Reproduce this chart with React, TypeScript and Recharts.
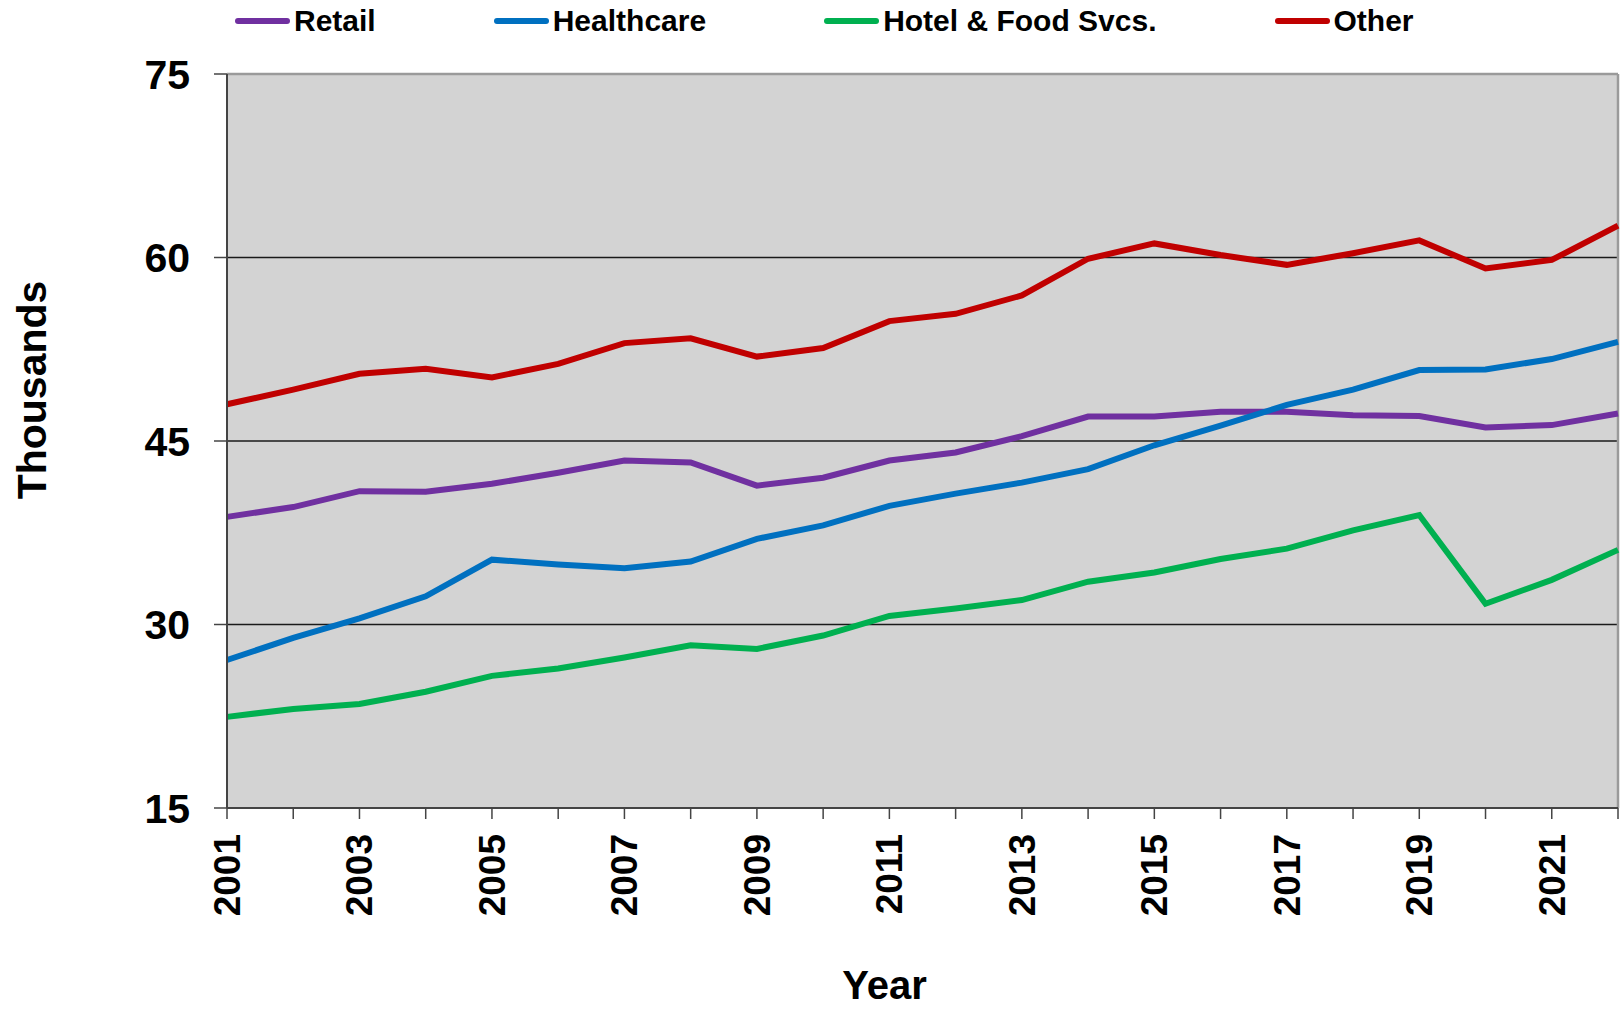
import React from 'react';
import { LineChart, Line, XAxis, YAxis, CartesianGrid, ReferenceLine } from 'recharts';

const years = [2001, 2002, 2003, 2004, 2005, 2006, 2007, 2008, 2009, 2010, 2011, 2012, 2013, 2014, 2015, 2016, 2017, 2018, 2019, 2020, 2021, 2022];
const retail = [38.8, 39.6, 40.9, 40.85, 41.5, 42.4, 43.4, 43.25, 41.35, 42.0, 43.4, 44.06, 45.4, 47.0, 47.0, 47.4, 47.4, 47.1, 47.05, 46.1, 46.3, 47.25];
const healthcare = [27.1, 28.9, 30.5, 32.3, 35.3, 34.9, 34.6, 35.15, 37.0, 38.1, 39.7, 40.7, 41.6, 42.7, 44.65, 46.25, 47.95, 49.2, 50.8, 50.85, 51.7, 53.1];
const hotelFood = [22.45, 23.1, 23.5, 24.5, 25.8, 26.4, 27.3, 28.3, 28.0, 29.1, 30.7, 31.3, 32.0, 33.5, 34.25, 35.35, 36.2, 37.7, 38.95, 31.7, 33.65, 36.1];
const other = [48.0, 49.2, 50.5, 50.9, 50.2, 51.3, 53.0, 53.4, 51.9, 52.6, 54.8, 55.4, 56.9, 59.9, 61.15, 60.2, 59.4, 60.35, 61.4, 59.1, 59.8, 62.6];

const yTicks = [15, 30, 45, 60, 75];
const gridValues = [30, 45, 60];
const labeledYears = [2001, 2003, 2005, 2007, 2009, 2011, 2013, 2015, 2017, 2019, 2021];

const seriesNames = ['Retail', 'Healthcare', 'Hotel & Food Svcs.', 'Other'];
const seriesKeys = ['retail', 'healthcare', 'hotelFood', 'other'];
const seriesColors = ['#7030A0', '#0070C0', '#00B050', '#C00000'];

const data = years.map((y, i) => ({
  year: y,
  retail: retail[i],
  healthcare: healthcare[i],
  hotelFood: hotelFood[i],
  other: other[i],
}));

const FONT = '"Liberation Sans", Arial, sans-serif';

const XTick = (props: any) => {
  const { x, y, payload } = props;
  if (!labeledYears.includes(payload.value)) return null;
  return (
    <text
      x={x + 13}
      y={y}
      transform={`rotate(-90, ${x + 13}, ${y})`}
      textAnchor="end"
      fontFamily={FONT}
      fontWeight="bold"
      fontSize={37}
      fill="#000"
    >
      {payload.value}
    </text>
  );
};

const YLabel = (props: any) => {
  const { viewBox } = props;
  const cx = 32;
  const cy = viewBox.y + viewBox.height / 2 - 51;
  return (
    <text
      x={cx + 14}
      y={cy}
      transform={`rotate(-90, ${cx + 14}, ${cy})`}
      textAnchor="middle"
      fontFamily={FONT}
      fontWeight="bold"
      fontSize={41}
      fill="#000"
    >
      Thousands
    </text>
  );
};

const XLabel = (props: any) => {
  const { viewBox } = props;
  const cx = viewBox.x + viewBox.width / 2 - 38;
  return (
    <text
      x={cx}
      y={999}
      textAnchor="middle"
      fontFamily={FONT}
      fontWeight="bold"
      fontSize={40}
      fill="#000"
    >
      Year
    </text>
  );
};

export default function App() {
  return (
    <div style={{ position: 'fixed', left: 0, top: 0, width: 1623, height: 1009, background: '#fff' }}>
      <div
        style={{
          position: 'absolute',
          left: 235,
          top: 0,
          height: 42,
          display: 'flex',
          alignItems: 'center',
          gap: 118,
          fontFamily: FONT,
          fontWeight: 'bold',
          fontSize: 30,
          whiteSpace: 'nowrap',
        }}
      >
        {seriesNames.map((n, i) => (
          <div key={n} style={{ display: 'flex', alignItems: 'center' }}>
            <div style={{ width: 55, height: 6, borderRadius: 3, background: seriesColors[i], marginRight: 4 }} />
            <span>{n}</span>
          </div>
        ))}
      </div>
      <LineChart
        width={1623}
        height={1009}
        data={data}
        margin={{ top: 74, right: 5, left: 0, bottom: 0 }}
      >
        <CartesianGrid
          horizontal={true}
          vertical={false}
          horizontalValues={gridValues}
          stroke="#1a1a1a"
          strokeWidth={1.5}
          fill="#D3D3D3"
          fillOpacity={1}
        />
        <XAxis
          dataKey="year"
          type="number"
          domain={[2001, 2022]}
          ticks={years}
          interval={0}
          height={201}
          tickSize={11}
          tickMargin={15}
          tick={<XTick />}
          tickLine={{ stroke: '#444', strokeWidth: 1.5 }}
          axisLine={{ stroke: '#444', strokeWidth: 2 }}
          label={<XLabel />}
        />
        <YAxis
          type="number"
          domain={[15, 75]}
          ticks={yTicks}
          interval={0}
          width={227}
          tickSize={13}
          tickMargin={24}
          tick={{ fontFamily: FONT, fontWeight: 'bold', fontSize: 41, fill: '#000' }}
          tickLine={{ stroke: '#444', strokeWidth: 1.5 }}
          axisLine={{ stroke: '#444', strokeWidth: 2 }}
          label={<YLabel />}
        />
        <ReferenceLine y={75} stroke="#9a9a9a" strokeWidth={2.5} />
        <ReferenceLine x={2022} stroke="#9a9a9a" strokeWidth={2.5} />
        {seriesKeys.map((k, i) => (
          <Line
            key={k}
            type="linear"
            dataKey={k}
            name={seriesNames[i]}
            stroke={seriesColors[i]}
            strokeWidth={6}
            dot={false}
            activeDot={false}
            isAnimationActive={false}
          />
        ))}
      </LineChart>
    </div>
  );
}
